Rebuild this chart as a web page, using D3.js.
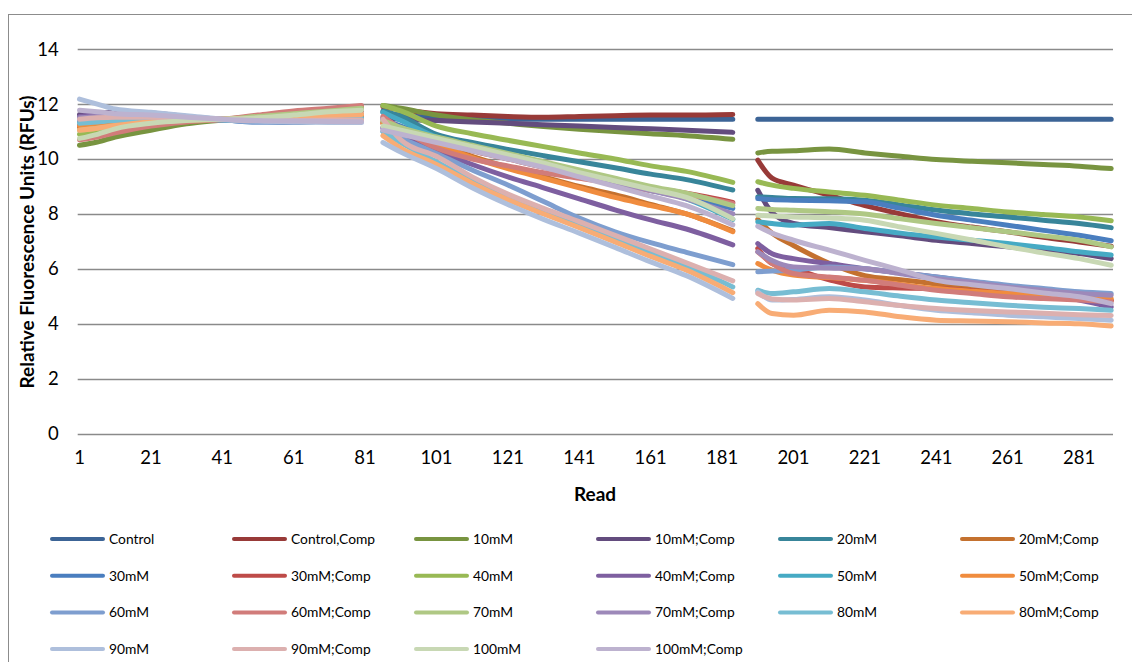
<!DOCTYPE html>
<html>
<head>
<meta charset="utf-8">
<script src="https://cdn.jsdelivr.net/npm/d3@7/dist/d3.min.js"></script>
<style>
  html, body { margin: 0; padding: 0; background: #fff; }
  svg { display: block; font-family: Lato, "Open Sans", sans-serif; }
</style>
</head>
<body>
<svg id="chart" width="1132" height="662"></svg>
<script>
// Read numbers at which values were taken; null values mark the pauses between read blocks.
const reads = [1, 6, 11, 21, 31, 41, 51, 61, 71, 80, 83,
  86, 91, 101, 111, 121, 131, 141, 151, 161, 171, 184, 188,
  191, 195, 201, 211, 221, 231, 241, 251, 261, 271, 281, 290];

const seriesNames = ["Control", "Control,Comp", "10mM", "10mM;Comp", "20mM", "20mM;Comp",
  "30mM", "30mM;Comp", "40mM", "40mM;Comp", "50mM", "50mM;Comp",
  "60mM", "60mM;Comp", "70mM", "70mM;Comp", "80mM", "80mM;Comp",
  "90mM", "90mM;Comp", "100mM", "100mM;Comp"];

const seriesColors = ["#3c6496", "#983a38", "#789440", "#634c7e", "#38859a", "#c4712f",
  "#4a7ebf", "#be4b48", "#98b954", "#7e5fa0", "#46aac4", "#f08c3e",
  "#7e9ecf", "#d17c7a", "#afc884", "#9d89b9", "#77bdd3", "#f8ac75",
  "#aebfdc", "#dcb0af", "#c8d8b4", "#bdb2cf"];

// Relative fluorescence (RFUs), one array per sample, aligned with `reads`.
const control = [11.4, 11.42, 11.45, 11.45, 11.43, 11.42, 11.38, 11.35, 11.38, 11.4, null,
  11.7, 11.6, 11.5, 11.47, 11.45, 11.45, 11.45, 11.45, 11.45, 11.45, 11.45, null,
  11.45, 11.45, 11.45, 11.45, 11.45, 11.45, 11.45, 11.45, 11.45, 11.45, 11.45, 11.45];
const controlComp = [11.3, 11.3, 11.35, 11.4, 11.42, 11.45, 11.55, 11.65, 11.72, 11.75, null,
  11.9, 11.8, 11.65, 11.6, 11.55, 11.52, 11.55, 11.58, 11.6, 11.6, 11.62, null,
  9.96, 9.3, 9.05, 8.68, 8.3, 8.0, 7.72, 7.52, 7.35, 7.15, 6.98, 6.82];
const mM10 = [10.5, 10.62, 10.8, 11.05, 11.28, 11.42, 11.55, 11.7, 11.8, 11.9, null,
  11.95, 11.85, 11.6, 11.42, 11.3, 11.18, 11.08, 11.0, 10.92, 10.85, 10.72, null,
  10.22, 10.28, 10.3, 10.36, 10.22, 10.1, 9.98, 9.92, 9.86, 9.8, 9.74, 9.65];
const mM10Comp = [11.62, 11.68, 11.7, 11.68, 11.55, 11.45, 11.4, 11.42, 11.45, 11.5, null,
  11.5, 11.45, 11.4, 11.35, 11.3, 11.25, 11.2, 11.15, 11.1, 11.05, 10.97, null,
  8.86, 8.05, 7.65, 7.5, 7.35, 7.2, 7.04, 6.92, 6.8, 6.68, 6.56, 6.37];
const mM20 = [11.45, 11.45, 11.48, 11.5, 11.47, 11.43, 11.42, 11.45, 11.5, 11.55, null,
  11.75, 11.55, 10.9, 10.6, 10.35, 10.12, 9.9, 9.68, 9.45, 9.25, 8.87, null,
  8.62, 8.6, 8.56, 8.55, 8.5, 8.32, 8.14, 8.0, 7.89, 7.77, 7.65, 7.5];
const mM20Comp = [11.15, 11.2, 11.3, 11.38, 11.42, 11.42, 11.45, 11.5, 11.55, 11.6, null,
  11.35, 11.1, 10.55, 10.1, 9.7, 9.35, 9.0, 8.7, 8.35, 8.0, 7.38, null,
  7.8, 7.3, 6.85, 6.2, 5.75, 5.6, 5.45, 5.3, 5.18, 5.05, 4.95, 4.85];
const mM30 = [11.5, 11.5, 11.5, 11.5, 11.45, 11.42, 11.35, 11.35, 11.38, 11.4, null,
  11.45, 11.2, 10.75, 10.4, 10.05, 9.75, 9.45, 9.15, 8.85, 8.6, 8.2, null,
  8.56, 8.52, 8.5, 8.48, 8.44, 8.2, 7.95, 7.77, 7.59, 7.4, 7.22, 7.02];
const mM30Comp = [11.2, 11.25, 11.3, 11.38, 11.42, 11.45, 11.5, 11.62, 11.72, 11.8, null,
  11.3, 11.05, 10.65, 10.3, 10.0, 9.7, 9.45, 9.2, 8.95, 8.75, 8.42, null,
  6.74, 6.19, 6.0, 5.6, 5.34, 5.3, 5.28, 5.2, 5.1, 5.0, 4.92, 4.85];
const mM40 = [10.9, 11.0, 11.12, 11.3, 11.4, 11.45, 11.55, 11.68, 11.8, 11.9, null,
  11.95, 11.75, 11.2, 10.92, 10.68, 10.45, 10.22, 10.0, 9.75, 9.55, 9.15, null,
  9.17, 9.05, 8.93, 8.8, 8.68, 8.5, 8.32, 8.2, 8.07, 7.98, 7.89, 7.75];
const mM40Comp = [11.55, 11.6, 11.6, 11.58, 11.5, 11.45, 11.42, 11.42, 11.45, 11.45, null,
  11.15, 10.85, 10.3, 9.8, 9.35, 8.95, 8.55, 8.15, 7.78, 7.45, 6.87, null,
  6.92, 6.55, 6.37, 6.19, 6.0, 5.85, 5.7, 5.52, 5.34, 5.1, 4.86, 4.61];
const mM50 = [11.35, 11.4, 11.45, 11.48, 11.45, 11.42, 11.4, 11.42, 11.45, 11.48, null,
  11.7, 11.4, 10.8, 10.45, 10.15, 9.85, 9.55, 9.2, 8.9, 8.55, 7.8, null,
  7.71, 7.65, 7.59, 7.65, 7.47, 7.3, 7.16, 7.04, 6.92, 6.78, 6.62, 6.5];
const mM50Comp = [11.2, 11.25, 11.32, 11.4, 11.42, 11.43, 11.45, 11.5, 11.55, 11.6, null,
  11.3, 11.05, 10.55, 10.05, 9.65, 9.3, 8.95, 8.6, 8.3, 8.0, 7.35, null,
  6.19, 5.95, 5.77, 5.68, 5.58, 5.43, 5.28, 5.18, 5.1, 5.03, 4.98, 4.92];
const mM60 = [11.4, 11.45, 11.48, 11.5, 11.45, 11.42, 11.35, 11.35, 11.38, 11.4, null,
  11.0, 10.75, 10.2, 9.6, 9.05, 8.45, 7.85, 7.35, 6.95, 6.6, 6.15, null,
  5.89, 5.92, 5.95, 6.07, 6.0, 5.85, 5.7, 5.55, 5.4, 5.28, 5.16, 5.1];
const mM60Comp = [10.7, 10.8, 10.95, 11.2, 11.35, 11.45, 11.6, 11.75, 11.85, 11.95, null,
  11.55, 11.1, 10.4, 10.0, 9.75, 9.5, 9.3, 9.1, 8.85, 8.7, 8.38, null,
  6.62, 6.2, 5.83, 5.7, 5.58, 5.4, 5.22, 5.1, 4.98, 4.92, 4.86, 4.8];
const mM70 = [11.05, 11.12, 11.2, 11.35, 11.42, 11.45, 11.55, 11.65, 11.75, 11.85, null,
  11.4, 11.15, 10.8, 10.5, 10.2, 9.9, 9.6, 9.3, 9.0, 8.75, 8.3, null,
  8.2, 8.16, 8.13, 8.08, 8.0, 7.82, 7.65, 7.5, 7.35, 7.2, 7.04, 6.8];
const mM70Comp = [11.5, 11.55, 11.58, 11.55, 11.5, 11.45, 11.42, 11.4, 11.4, 11.42, null,
  11.1, 10.95, 10.65, 10.35, 10.05, 9.75, 9.45, 9.15, 8.85, 8.55, 8.0, null,
  6.62, 6.3, 6.07, 6.03, 6.0, 5.82, 5.64, 5.5, 5.34, 5.22, 5.1, 5.04];
const mM80 = [11.3, 11.35, 11.4, 11.45, 11.45, 11.43, 11.4, 11.42, 11.45, 11.48, null,
  11.0, 10.6, 9.9, 9.2, 8.6, 8.08, 7.6, 7.1, 6.6, 6.1, 5.34, null,
  5.22, 5.1, 5.16, 5.28, 5.16, 5.0, 4.86, 4.76, 4.67, 4.6, 4.55, 4.49];
const mM80Comp = [11.05, 11.12, 11.22, 11.35, 11.42, 11.45, 11.48, 11.52, 11.58, 11.62, null,
  10.85, 10.4, 9.8, 9.12, 8.52, 8.0, 7.5, 6.98, 6.45, 5.95, 5.13, null,
  4.73, 4.37, 4.31, 4.49, 4.43, 4.25, 4.13, 4.1, 4.07, 4.03, 4.0, 3.92];
const mM90 = [12.18, 12.0, 11.82, 11.7, 11.58, 11.45, 11.38, 11.35, 11.33, 11.33, null,
  10.6, 10.25, 9.65, 8.95, 8.34, 7.8, 7.3, 6.78, 6.25, 5.75, 4.92, null,
  5.16, 4.86, 4.88, 4.98, 4.86, 4.66, 4.49, 4.4, 4.31, 4.25, 4.19, 4.13];
const mM90Comp = [11.45, 11.5, 11.52, 11.52, 11.48, 11.45, 11.4, 11.4, 11.42, 11.42, null,
  11.45, 10.7, 10.1, 9.35, 8.72, 8.2, 7.72, 7.22, 6.72, 6.22, 5.56, null,
  5.1, 4.9, 4.86, 4.92, 4.8, 4.66, 4.55, 4.48, 4.43, 4.38, 4.33, 4.3];
const mM100 = [10.75, 10.9, 11.1, 11.3, 11.4, 11.45, 11.5, 11.6, 11.72, 11.78, null,
  11.2, 11.05, 10.75, 10.45, 10.15, 9.85, 9.5, 9.2, 8.9, 8.6, 7.82, null,
  7.95, 7.92, 7.89, 7.85, 7.77, 7.52, 7.29, 7.05, 6.8, 6.58, 6.37, 6.13];
const mM100Comp = [11.78, 11.72, 11.65, 11.6, 11.52, 11.45, 11.4, 11.38, 11.37, 11.36, null,
  11.05, 10.9, 10.6, 10.3, 10.0, 9.7, 9.35, 9.0, 8.65, 8.3, 7.6, null,
  7.55, 7.3, 7.04, 6.68, 6.31, 5.95, 5.58, 5.42, 5.28, 5.12, 4.98, 4.73];

const seriesValues = [control, controlComp, mM10, mM10Comp, mM20, mM20Comp,
  mM30, mM30Comp, mM40, mM40Comp, mM50, mM50Comp,
  mM60, mM60Comp, mM70, mM70Comp, mM80, mM80Comp,
  mM90, mM90Comp, mM100, mM100Comp];

const xTickValues = [1, 21, 41, 61, 81, 101, 121, 141, 161, 181, 201, 221, 241, 261, 281];
const yTickValues = [0, 2, 4, 6, 8, 10, 12, 14];
const readCount = 290;

const svg = d3.select("#chart");
const plot = { left: 77.7, right: 1113, top: 49.2, bottom: 433.5 };
const font = "Lato, sans-serif";

// Chart area border
svg.append("rect")
  .attr("x", 8.5).attr("y", 14.5)
  .attr("width", 1200).attr("height", 800)
  .attr("fill", "none").attr("stroke", "#8c8c8c").attr("stroke-width", 1);

const x = d3.scaleBand()
  .domain(d3.range(1, readCount + 1))
  .range([plot.left, plot.right])
  .paddingInner(0).paddingOuter(0);
const xPos = r => x(r) + x.bandwidth() / 2;

const y = d3.scaleLinear().domain([0, 14]).range([plot.bottom, plot.top]);

// Horizontal gridlines (the 0 line doubles as the category axis)
svg.append("g")
  .selectAll("line")
  .data(yTickValues)
  .join("line")
  .attr("x1", plot.left).attr("x2", plot.right)
  .attr("y1", d => Math.round(y(d)) + 0.5).attr("y2", d => Math.round(y(d)) + 0.5)
  .attr("stroke", "#8a8a8a").attr("stroke-width", 1.6);

// Y axis labels
const yAxis = d3.axisLeft(y).tickValues(yTickValues).tickSize(0).tickPadding(0).tickFormat(d3.format("d"));
svg.append("g")
  .attr("transform", `translate(${plot.left - 19},0)`)
  .call(yAxis)
  .call(g => g.select(".domain").remove())
  .selectAll("text")
  .attr("font-family", font)
  .attr("font-size", 18.5)
  .attr("fill", "#000");

// X axis labels
const xAxis = d3.axisBottom(x).tickValues(xTickValues).tickSize(0).tickPadding(0);
svg.append("g")
  .attr("transform", `translate(0,${plot.bottom + 17})`)
  .call(xAxis)
  .call(g => g.select(".domain").remove())
  .selectAll("text")
  .attr("font-family", font)
  .attr("font-size", 18.5)
  .attr("fill", "#000");

// Axis titles
svg.append("text")
  .attr("x", 595).attr("y", 501)
  .attr("text-anchor", "middle")
  .attr("font-family", font)
  .attr("font-weight", "bold").attr("font-size", 19)
  .text("Read");

svg.append("text")
  .attr("transform", `translate(34,242) rotate(-90)`)
  .attr("text-anchor", "middle")
  .attr("font-family", font)
  .attr("font-weight", "bold").attr("font-size", 19)
  .text("Relative Fluorescence Units (RFUs)");

// Series lines
const line = d3.line()
  .defined(d => d.v !== null)
  .x(d => xPos(d.r))
  .y(d => y(d.v))
  .curve(d3.curveMonotoneX);

const series = seriesNames.map((name, i) => ({
  name,
  color: seriesColors[i],
  points: reads.map((r, j) => ({ r, v: seriesValues[i][j] }))
}));

svg.append("g")
  .selectAll("path")
  .data(series)
  .join("path")
  .attr("d", d => line(d.points))
  .attr("fill", "none")
  .attr("stroke", d => d.color)
  .attr("stroke-width", 5)
  .attr("stroke-linecap", "round")
  .attr("stroke-linejoin", "round");

// Legend: six columns, row-major
const legend = svg.append("g").attr("transform", "translate(50,539)");
const item = legend.selectAll("g")
  .data(series)
  .join("g")
  .attr("transform", (d, i) => `translate(${(i % 6) * 182},${Math.floor(i / 6) * 36.7})`);
item.append("line")
  .attr("x1", 2).attr("x2", 53).attr("y1", 0).attr("y2", 0)
  .attr("stroke", d => d.color).attr("stroke-width", 4)
  .attr("stroke-linecap", "round");
item.append("text")
  .attr("x", 59).attr("y", 0).attr("dy", "0.35em")
  .attr("font-family", font)
  .attr("font-size", 13.8)
  .attr("fill", "#000")
  .text(d => d.name);
</script>
</body>
</html>
